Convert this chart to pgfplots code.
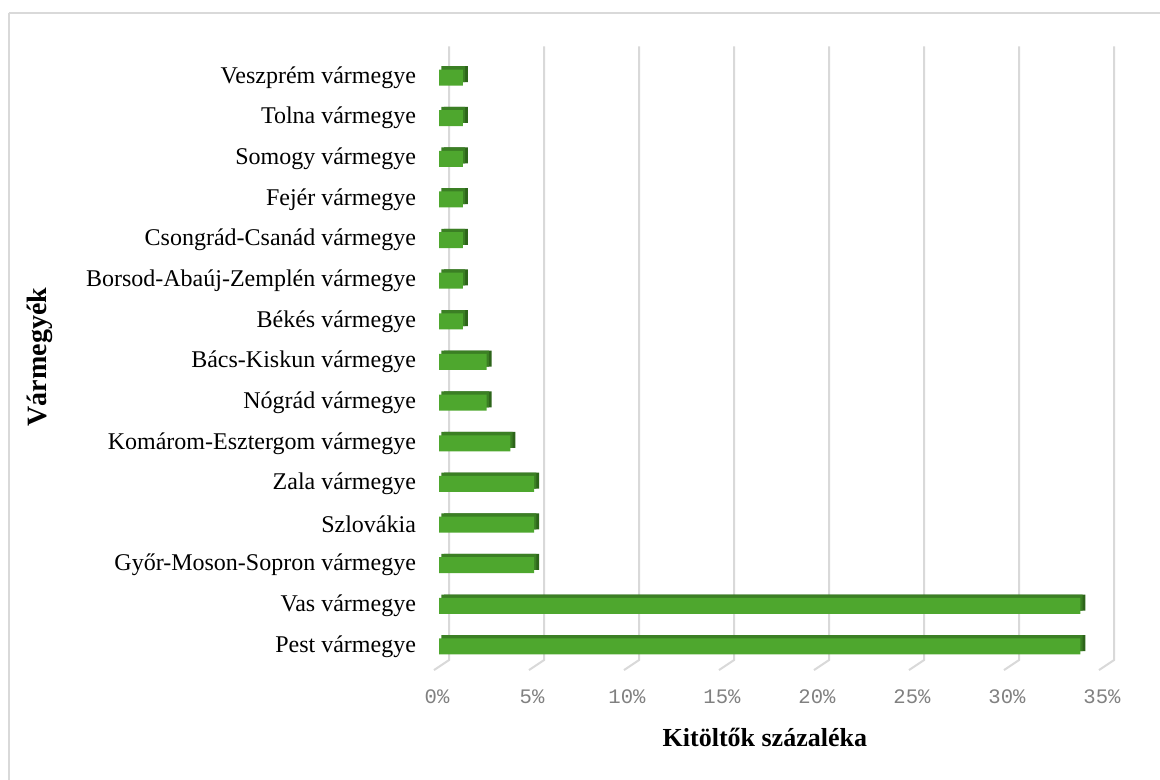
\documentclass[border=0pt]{standalone}
\usepackage{pgfplots}
\pgfplotsset{compat=1.18}
\usepackage{pgfplotstable}
\usepackage{fontspec}
\setmainfont{Liberation Serif}
\newfontfamily\monofont{Liberation Mono}
\definecolor{barfront}{HTML}{4EA72E}
\definecolor{bartop}{HTML}{3B7F24}
\definecolor{barside}{HTML}{2D651A}
\definecolor{gridc}{HTML}{D9D9D9}
\definecolor{tickc}{HTML}{808080}

\pgfplotstableread{
i v
0 33.75
1 33.75
2 5
3 5
4 5
5 3.75
6 2.5
7 2.5
8 1.25
9 1.25
10 1.25
11 1.25
12 1.25
13 1.25
14 1.25
}\data

\begin{document}
\begin{tikzpicture}
\useasboundingbox (0,0) rectangle (580pt,390pt);
\draw[gridc, line width=1pt] (4.25pt,383.5pt) -- (600pt,383.5pt);
\draw[gridc, line width=1pt] (4.25pt,383.5pt) -- (4.25pt,-10pt);
\begin{axis}[
  at={(219.5pt,56.6pt)}, anchor=south west,
  scale only axis, width=332.5pt, height=304.8pt,
  xmin=0, xmax=35, ymin=-0.5, ymax=14.5,
  clip=false,
  axis line style={draw=none},
  major tick length=0pt,
  xtick={0,5,10,15,20,25,30,35},
  xticklabels={0\%,5\%,10\%,15\%,20\%,25\%,30\%,35\%},
  xticklabel style={font=\monofont\fontsize{10.3pt}{12pt}\selectfont, text=tickc, anchor=center, yshift=-15pt, xshift=-1pt},
  ytick={0,...,14},
  yticklabels={Pest vármegye, Vas vármegye, Győr-Moson-Sopron vármegye, Szlovákia, Zala vármegye, Komárom-Esztergom vármegye, Nógrád vármegye, Bács-Kiskun vármegye, Békés vármegye, Borsod-Abaúj-Zemplén vármegye, Csongrád-Csanád vármegye, Fejér vármegye, Somogy vármegye, Tolna vármegye, Veszprém vármegye},
  yticklabel style={font=\fontsize{12pt}{14pt}\selectfont, anchor=east, xshift=-8pt},
  xlabel={Kitöltők százaléka},
  xlabel style={font=\bfseries\fontsize{13pt}{15pt}\selectfont, at={(axis description cs:0.49,-0.1165)}, anchor=center},
  ylabel={Vármegyék},
  ylabel style={font=\bfseries\fontsize{14pt}{16pt}\selectfont, at={(axis description cs:-0.600,0.508)}, anchor=center},
]
\pgfplotsinvokeforeach{0,5,10,15,20,25,30,35}{
  \draw[gridc, line width=1pt] ([xshift=5pt,yshift=3.35pt]axis cs:#1,14.6) -- ([xshift=5pt,yshift=3.35pt]axis cs:#1,-0.5) -- ([xshift=-2.5pt,yshift=-1.65pt]axis cs:#1,-0.5);
}
\addplot[xbar, bar shift=0pt, bar width=8pt, fill=barside, draw=none, xshift=2.5pt, yshift=1.65pt] table[x=v,y=i]{\data};
\addplot[xbar, bar shift=0pt, bar width=8pt, fill=bartop, draw=none, xshift=1.2pt, yshift=1.65pt] table[x=v,y=i]{\data};
\addplot[xbar, bar shift=0pt, bar width=8pt, fill=barfront, draw=none] table[x=v,y=i]{\data};
\end{axis}
\end{tikzpicture}
\end{document}
